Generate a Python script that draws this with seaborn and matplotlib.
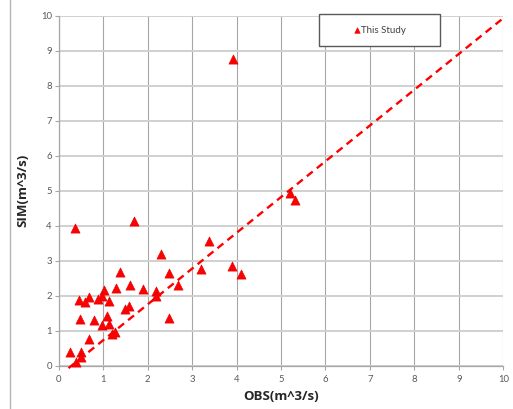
import numpy as np
import pandas as pd
import seaborn as sns
import matplotlib.pyplot as plt
from matplotlib.patches import Rectangle

obs = [0.37, 1.69, 3.39, 2.29, 1.39, 2.49, 3.19, 3.90, 4.10, 1.60,
       1.29, 1.90, 2.18, 2.69, 2.19, 1.01, 0.98, 0.89, 0.69, 0.45,
       0.59, 1.13, 1.49, 1.59, 0.49, 0.80, 1.09, 0.98, 1.13, 2.49,
       0.68, 1.19, 1.27, 0.26, 0.50, 0.38, 0.50, 3.91, 5.20, 5.31]
sim = [3.93, 4.12, 3.56, 3.18, 2.68, 2.65, 2.77, 2.85, 2.63, 2.30,
       2.23, 2.18, 2.13, 2.30, 1.98, 2.15, 1.98, 1.90, 1.97, 1.89,
       1.81, 1.84, 1.62, 1.70, 1.33, 1.32, 1.43, 1.17, 1.19, 1.37,
       0.77, 0.90, 0.95, 0.40, 0.39, 0.12, 0.25, 8.75, 4.94, 4.73]

# dashed reference line
line_x = [0.22, 9.97]
line_y = [-0.07, 9.90]

ticks = list(range(0, 11))
series_name = "This Study"

df = pd.DataFrame({"OBS": obs, "SIM": sim})
line_df = pd.DataFrame({"x": line_x, "y": line_y})

sns.set_style("white")
plt.rcParams['font.family'] = ['Lato', 'DejaVu Sans']

fig = plt.figure(figsize=(5.13, 4.09), dpi=100)
ax = fig.add_axes((58.7 / 513, 43.3 / 409, 444.6 / 513, 350.0 / 409))

# outer chart frame (only top/left visible in the crop)
fig.add_artist(Rectangle((10 / 513, -0.2), 1.2, 1.2 + (1 - 6.5 / 409),
                         transform=fig.transFigure, fill=False,
                         edgecolor='#b4b4b4', linewidth=1.0, zorder=-1))

sns.lineplot(data=line_df, x="x", y="y", ax=ax, color='#ff0000',
             linewidth=1.7, dashes=False, zorder=3)
ax.lines[-1].set_dashes((3.2, 2.2))
ax.lines[-1].set_clip_on(False)

sns.scatterplot(data=df, x="OBS", y="SIM", ax=ax, marker='^', s=44,
                color='#ff0000', edgecolor='#e00000', linewidth=0.4,
                label=series_name, zorder=4, clip_on=False)

ax.set_xlim(0, 10)
ax.set_ylim(0, 10)
ax.set_xticks(ticks)
ax.set_yticks(ticks)

# vertical gridlines darker/thinner, horizontal lighter/thicker
ax.xaxis.grid(True, color='#a6a6a6', linewidth=0.8)
ax.yaxis.grid(True, color='#d0d0d0', linewidth=1.4)
ax.set_axisbelow(True)

for s in ['top', 'right']:
    ax.spines[s].set_visible(False)
for s in ['left', 'bottom']:
    ax.spines[s].set_color('#a6a6a6')
    ax.spines[s].set_linewidth(0.9)

ax.tick_params(axis='both', which='major', direction='out', length=3,
               width=0.8, color='#a6a6a6', labelsize=6.8, labelcolor='#595959')
ax.tick_params(axis='x', pad=4)
ax.tick_params(axis='y', pad=2)
ax.xaxis.set_ticks_position('bottom')
ax.yaxis.set_ticks_position('left')

label_font = ['Open Sans', 'DejaVu Sans']
ax.set_xlabel("OBS(m^3/s)", fontsize=9.5, fontweight='bold', family=label_font,
              color='#262626', labelpad=4)
ax.set_ylabel("SIM(m^3/s)", fontsize=9.5, fontweight='bold', family=label_font,
              color='#262626', labelpad=8)

# legend box with white fill, drawn inside the axes so the legend sits on top
box = Rectangle((319.3 / 513, 1 - 46 / 409), 121 / 513, 31.7 / 409,
                transform=fig.transFigure, facecolor='white',
                edgecolor='#595959', linewidth=1.0, zorder=6, clip_on=False)
ax.add_patch(box)
leg = ax.legend(loc='center', bbox_to_anchor=(380 / 513, 1 - 30.2 / 409),
                bbox_transform=fig.transFigure, frameon=False, fontsize=7,
                handletextpad=0.05, handlelength=0.7, borderpad=0.2,
                markerscale=0.6)
leg.set_zorder(7)
for t in leg.get_texts():
    t.set_color('#404040')

plt.savefig("out.png", dpi=100)
plt.close()
